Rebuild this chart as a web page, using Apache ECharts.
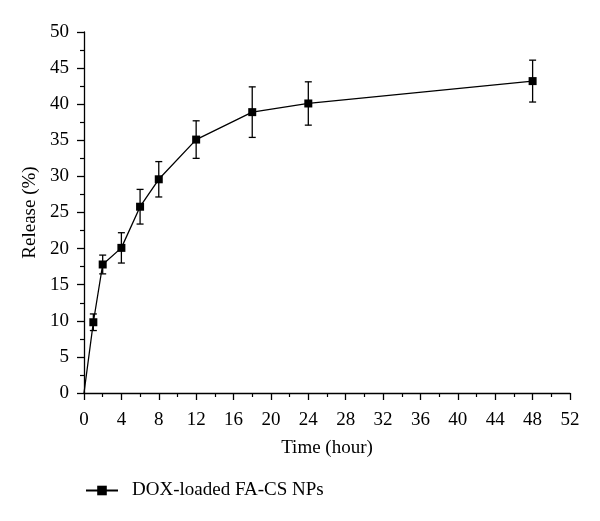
<!DOCTYPE html>
<html>
<head>
<meta charset="utf-8">
<script src="https://cdn.jsdelivr.net/npm/echarts@6/dist/echarts.min.js"></script>
<style>html,body{margin:0;padding:0;background:#fff}#c{width:600px;height:521px}</style>
</head>
<body>
<div id="c"></div>
<script>
const timeHours = [0, 1, 2, 4, 6, 8, 12, 18, 24, 48];
const releasePct = [0, 9.8, 17.8, 20.1, 25.8, 29.6, 35.1, 38.9, 40.1, 43.2];
const releaseErr = [0, 1.15, 1.3, 2.1, 2.4, 2.45, 2.6, 3.5, 3.0, 2.9];
const seriesName = 'DOX-loaded FA-CS NPs';
const xTitle = 'Time (hour)';
const yTitle = 'Release (%)';

const FONT = '"Liberation Serif", "DejaVu Serif", serif';
const FS = 19;
const chart = echarts.init(document.getElementById('c'), null, {renderer: 'canvas'});

const lineData = timeHours.map((t, i) => i === 0 ? {value: [t, releasePct[i]], symbolSize: 0} : [t, releasePct[i]]);
const errData = timeHours.map((t, i) => [t, releasePct[i] - releaseErr[i], releasePct[i] + releaseErr[i]]).filter((d, i) => releaseErr[i] > 0);

chart.setOption({
  animation: false,
  backgroundColor: '#fff',
  textStyle: {fontFamily: FONT},
  grid: {left: 84, right: 30, top: 32, bottom: 128, containLabel: false},
  legend: {
    data: [seriesName],
    left: 80, top: 476,
    itemWidth: 32, itemHeight: 12, itemGap: 10,
    textStyle: {fontFamily: FONT, fontSize: FS, color: '#000', padding: [0, 0, 0, 9]}
  },
  xAxis: {
    type: 'value', min: 0, max: 52, interval: 4,
    name: xTitle, nameLocation: 'middle', nameGap: 46,
    nameTextStyle: {fontFamily: FONT, fontSize: FS, color: '#000'},
    axisLine: {onZero: false, lineStyle: {color: '#000', width: 1.3}},
    axisTick: {show: true, length: 7, lineStyle: {color: '#000', width: 1.3}},
    minorTick: {show: true, splitNumber: 2, length: 4, lineStyle: {color: '#000', width: 1.2}},
    axisLabel: {fontFamily: FONT, fontSize: FS, color: '#000', margin: 18},
    splitLine: {show: false}
  },
  yAxis: {
    type: 'value', min: 0, max: 50, interval: 5,
    name: yTitle, nameLocation: 'middle', nameGap: 44, nameRotate: 90,
    nameTextStyle: {fontFamily: FONT, fontSize: FS, color: '#000'},
    axisLine: {show: true, onZero: false, lineStyle: {color: '#000', width: 1.3}},
    axisTick: {show: true, length: 7, lineStyle: {color: '#000', width: 1.3}},
    minorTick: {show: true, splitNumber: 2, length: 4, lineStyle: {color: '#000', width: 1.2}},
    axisLabel: {fontFamily: FONT, fontSize: FS, color: '#000', margin: 15},
    splitLine: {show: false}
  },
  series: [
    {
      name: seriesName,
      type: 'line',
      data: lineData,
      symbol: 'rect',
      symbolSize: 8,
      itemStyle: {color: '#000'},
      lineStyle: {color: '#000', width: 1.3},
      z: 3
    },
    {
      name: 'err',
      type: 'custom',
      data: errData,
      encode: {x: 0, y: [1, 2]},
      renderItem: function (params, api) {
        const x = api.value(0);
        const lo = api.coord([x, api.value(1)]);
        const hi = api.coord([x, api.value(2)]);
        const hw = 3.5;
        const style = {stroke: '#000', lineWidth: 1.3, fill: null};
        return {
          type: 'group',
          children: [
            {type: 'line', shape: {x1: lo[0], y1: lo[1], x2: hi[0], y2: hi[1]}, style: style},
            {type: 'line', shape: {x1: lo[0] - hw, y1: lo[1], x2: lo[0] + hw, y2: lo[1]}, style: style},
            {type: 'line', shape: {x1: hi[0] - hw, y1: hi[1], x2: hi[0] + hw, y2: hi[1]}, style: style}
          ]
        };
      },
      z: 2
    }
  ]
});
</script>
</body>
</html>
